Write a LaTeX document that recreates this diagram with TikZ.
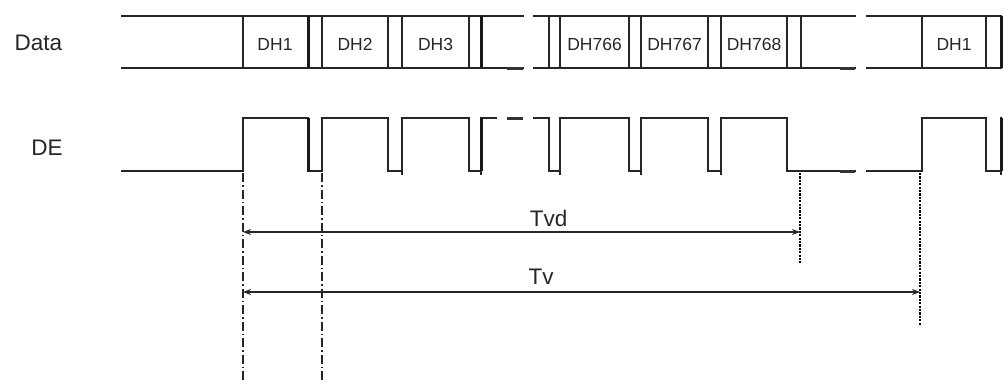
\documentclass[tikz,border=0pt]{standalone}
\usepackage{fontspec}
\setmainfont{Liberation Sans}
\usetikzlibrary{arrows.meta}
\begin{document}
\begin{tikzpicture}[x=1pt,y=-1pt,
  sig/.style={line width=1.5pt,line cap=rect,black!85},
  thk/.style={line width=3pt,black!90},
  dsh/.style={line width=3pt,black!80},
  lbl/.style={inner sep=0pt,anchor=base,font=\fontsize{22.5}{24}\selectfont,text=black!85},
  dh/.style={inner sep=0pt,anchor=base,font=\fontsize{17.5}{19}\selectfont,text=black!85},
  dashdot/.style={line width=1.4pt,black!85,dash pattern=on 9pt off 3pt on 1.5pt off 3pt},
  dotv/.style={line width=2.6pt,black,dash pattern=on 2.2pt off 1.2pt},
  dim/.style={black!85,{Stealth[length=8pt,width=6pt]}-{Stealth[length=8pt,width=6pt]}},
  tick/.style={line width=1.3pt,black!85}]
\useasboundingbox (0,0) rectangle (1003,383);

% labels
\node[lbl] (data) at (38.5,50) {Data};
\node[lbl] (de) at (47,155) {DE};

% Data bus
\draw[sig] (122,16) -- (523,16) (122,68) -- (523,68);
\draw[sig] (534,16) -- (855,16) (534,68) -- (855,68);
\draw[sig] (867,16) -- (1001,16) (867,68) -- (1001,68);
\draw[dsh] (507,68) -- (523,68) (840,68) -- (855,68);
\foreach \x in {243,322,388,402,469,549,560,629,641,708,721,787,801,922,986}
  \draw[sig] (\x,16) -- (\x,68);
\foreach \x in {308,481,1001}
  \draw[thk] (\x,16) -- (\x,68);

\node[dh] (dh1)   at (275,50)   {DH1};
\node[dh] (dh2)   at (355,50)   {DH2};
\node[dh] (dh3)   at (435.5,50) {DH3};
\node[dh] (dh766) at (594.5,50) {DH766};
\node[dh] (dh767) at (674.5,50) {DH767};
\node[dh] (dh768) at (754,50)   {DH768};
\node[dh] (dh1b)  at (954,50)   {DH1};

% DE waveform
\draw[sig] (122,171) -- (243,171) -- (243,118) -- (308,118) -- (308,171) -- (322,171)
  -- (322,118) -- (388,118) -- (388,171) -- (402,171) -- (402,118) -- (469,118)
  -- (469,171) -- (481,171) -- (481,118) -- (496,118);
\draw[dsh] (507,118) -- (523,118);
\draw[sig] (534,118) -- (549,118) -- (549,171) -- (560,171) -- (560,118) -- (629,118)
  -- (629,171) -- (641,171) -- (641,118) -- (708,118) -- (708,171) -- (721,171)
  -- (721,118) -- (787,118) -- (787,171) -- (855,171);
\draw[dsh] (840,171) -- (855,171);
\draw[sig] (867,171) -- (922,171) -- (922,118) -- (986,118) -- (986,171) -- (1001,171) -- (1001,118);
\draw[thk] (308,118) -- (308,171) (481,118) -- (481,171) (1001,118) -- (1001,171);
\foreach \x in {402,481,560,641,721,1001}
  \draw[tick] (\x,171) -- (\x,175);

% guides
\coordinate (g1t) at (243,173); \coordinate (g1b) at (243,383);
\coordinate (g2t) at (322,173); \coordinate (g2b) at (322,383);
\coordinate (g3t) at (800,173); \coordinate (g3b) at (800,263);
\coordinate (g4t) at (920,173); \coordinate (g4b) at (920,325);
\draw[dashdot] (g1t) -- (g1b);
\draw[dashdot] (g2t) -- (g2b);
\draw[dotv] (g3t) -- (g3b);
\draw[dotv] (g4t) -- (g4b);

% dimensions
\coordinate (tvdL) at (243,232); \coordinate (tvdR) at (800,232);
\coordinate (tvL) at (243,292);  \coordinate (tvR) at (920,292);
\draw[dim,line width=2.4pt] (tvdL) -- (tvdR);
\draw[dim,line width=1.8pt] (tvL) -- (tvR);
\node[lbl] (tvd) at (548.5,226) {Tvd};
\node[lbl] (tv) at (541,284) {Tv};
\end{tikzpicture}
\end{document}
